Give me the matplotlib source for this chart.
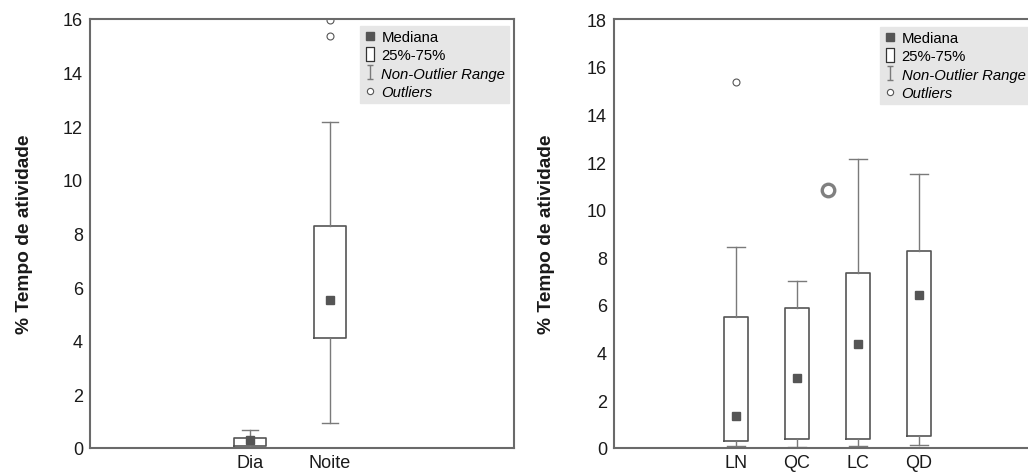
import matplotlib
matplotlib.use("Agg")
import matplotlib.pyplot as plt
from matplotlib.lines import Line2D
from matplotlib.path import Path

plt.rcParams['font.family'] = ['Liberation Sans', 'DejaVu Sans']

# painel esquerdo: dia / noite
periodos = ['Dia', 'Noite']
p_q1 = [0.09, 4.1]
p_med = [0.31, 5.53]
p_q3 = [0.38, 8.27]
p_lo = [0.02, 0.92]
p_hi = [0.67, 12.15]
p_out = [[], [15.38, 15.95]]

# painel direito: fases da lua
fases = ['LN', 'QC', 'LC', 'QD']
f_q1 = [0.28, 0.38, 0.38, 0.5]
f_med = [1.33, 2.92, 4.36, 6.43]
f_q3 = [5.48, 5.86, 7.33, 8.25]
f_lo = [0.08, 0.03, 0.07, 0.12]
f_hi = [8.45, 7.0, 12.14, 11.5]
f_out = [[15.37], [], [], []]
# outlier desenhado entre QC e LC
f_out_mid = [10.84]

BOX = '#555555'
WHIS = '#7a7a7a'
SPINE = '#6a6a6a'


def stats(q1, med, q3, lo, hi, out):
    return [dict(q1=a, med=b, q3=c, whislo=d, whishi=e, fliers=f)
            for a, b, c, d, e, f in zip(q1, med, q3, lo, hi, out)]


ibeam = Path([(-0.5, 1), (0.5, 1), (0, 1), (0, -1), (-0.5, -1), (0.5, -1)],
             [Path.MOVETO, Path.LINETO, Path.MOVETO, Path.LINETO, Path.MOVETO, Path.LINETO])
rect = Path([(-0.6, -1), (0.6, -1), (0.6, 1), (-0.6, 1), (-0.6, -1)],
            [Path.MOVETO, Path.LINETO, Path.LINETO, Path.LINETO, Path.CLOSEPOLY])


def draw(ax, st, labels, ymax, capw, lab_off):
    pos = list(range(1, len(labels) + 1))
    ax.bxp(st, positions=pos, widths=0.39, capwidths=capw, showfliers=True,
           boxprops=dict(color=BOX, linewidth=1.2),
           whiskerprops=dict(color=WHIS, linewidth=1.0),
           capprops=dict(color=WHIS, linewidth=1.0),
           medianprops=dict(linewidth=0),
           flierprops=dict(marker='o', markerfacecolor='white',
                           markeredgecolor='#555555', markersize=5,
                           markeredgewidth=0.8))
    ax.plot(pos, [s['med'] for s in st], 's', color='#555555', markersize=6, zorder=4)
    ax.set_xticks(pos)
    ax.set_xticklabels(labels)
    ax.set_ylim(0, ymax)
    ax.set_yticks(range(0, ymax + 1, 2))
    ax.tick_params(length=0, labelsize=13, colors='#1a1a1a')
    ax.tick_params(axis='y', pad=5)
    ax.tick_params(axis='x', pad=4)
    for s in ax.spines.values():
        s.set_color(SPINE)
        s.set_linewidth(1.5)
    ax.set_ylabel('% Tempo de atividade', fontsize=13.8, fontweight='bold', color='#1a1a1a')
    ax.yaxis.set_label_coords(-lab_off / (ax.get_position().width * 1028), 0.5)
    return pos


def legend(ax, loc, anchor):
    h = [Line2D([], [], ls='none', marker='s', color='#555555', markersize=5.5),
         Line2D([], [], ls='none', marker=rect, markerfacecolor='white',
                markeredgecolor='#333333', markersize=9.5, markeredgewidth=0.9),
         Line2D([], [], ls='none', marker=ibeam, markerfacecolor='none',
                markeredgecolor='#7a7a7a', markersize=9.5, markeredgewidth=1.0),
         Line2D([], [], ls='none', marker='o', markerfacecolor='white',
                markeredgecolor='#555555', markersize=4.5, markeredgewidth=0.8)]
    lg = ax.legend(h, ['Mediana', '25%-75%', 'Non-Outlier Range', 'Outliers'],
                   loc=loc, bbox_to_anchor=anchor, borderaxespad=0, fontsize=10.7,
                   handlelength=0.8, handletextpad=0.4, labelspacing=0.3,
                   borderpad=0.25, fancybox=False, framealpha=1)
    lg.get_frame().set_facecolor('#e6e6e6')
    lg.get_frame().set_edgecolor('#e6e6e6')
    for t in lg.get_texts()[2:]:
        t.set_style('italic')


fig = plt.figure(figsize=(10.28, 4.77), dpi=100)

ax1 = fig.add_axes([90 / 1028, 1 - 449 / 477, 424 / 1028, 429 / 477])
draw(ax1, stats(p_q1, p_med, p_q3, p_lo, p_hi, p_out), periodos, 16, 0.21, 57)
ax1.set_xlim(-1, 4.3)
legend(ax1, 'upper right', ((509 - 90) / 424, (449 - 27) / 429))

ax2 = fig.add_axes([614 / 1028, 1 - 449 / 477, 414 / 1028, 429 / 477])
pos2 = draw(ax2, stats(f_q1, f_med, f_q3, f_lo, f_hi, f_out), fases, 18, 0.29, 59)
ax2.plot([(pos2[1] + pos2[2]) / 2] * len(f_out_mid), f_out_mid, 'o',
         markerfacecolor='white', markeredgecolor='#808080', markersize=9,
         markeredgewidth=2.4, zorder=3)
ax2.set_xlim(-1, -1 + 414 / 61)
ax2.spines['right'].set_visible(False)
legend(ax2, 'upper left', ((880 - 614) / 414, (449 - 28) / 429))

fig.savefig('out.png', dpi=100)
